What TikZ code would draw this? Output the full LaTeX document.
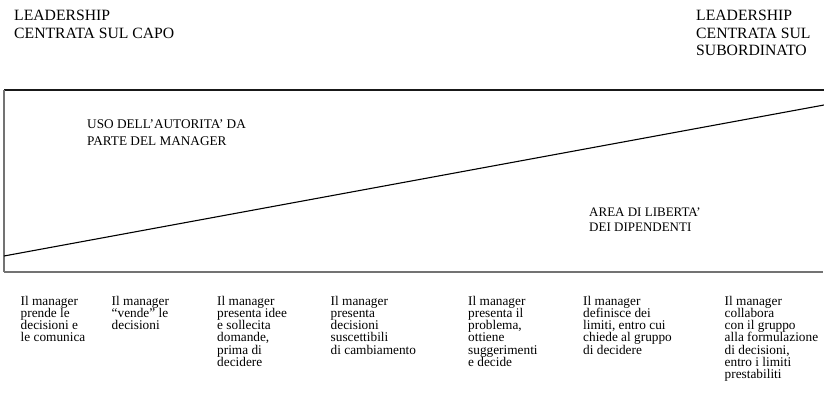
\documentclass[tikz,border=0pt]{standalone}
\usepackage{fontspec}
\setmainfont{Liberation Serif}
\begin{document}
\begin{tikzpicture}[x=1pt,y=-1pt,
  head/.style={anchor=base west,inner sep=0pt,align=left,
    font=\fontsize{15.7}{17.6}\selectfont},
  area/.style 2 args={anchor=base west,inner sep=0pt,align=left,
    font=\fontsize{#1}{#2}\selectfont},
  step label/.style={anchor=base west,inner sep=0pt,align=left,
    font=\fontsize{13.3}{12.3}\selectfont},
  frame top/.style={line width=1.2pt,black!90},
  frame low/.style={line width=1.8pt,black!55},
  frame side/.style={line width=1.6pt,black!55},
  divide/.style={line width=1.1pt,black}]
\useasboundingbox (0,0) rectangle (824,406);

% corners of the open frame and ends of the dividing line
\coordinate (tl) at (4,90);
\coordinate (tr) at (824,90);
\coordinate (bl) at (4,272);
\coordinate (br) at (823,272);
\coordinate (dl) at (4,256);
\coordinate (dr) at (824,105);

\draw[frame top] (tl) -- (tr);
\draw[frame low] (bl) -- (br);
\draw[frame side] (bl) -- (tl);
\draw[divide] (dl) -- (dr);

% the two ends of the scale (nodes are placed by the baseline of their last line)
\node[head] (capo) at (14,38.3) {LEADERSHIP\\CENTRATA SUL CAPO};
\node[head] (sub) at (696,55.9) {LEADERSHIP\\CENTRATA SUL\\SUBORDINATO};

% the two areas split by the line
\node[area={13.25}{17.5}] (autorita) at (87,145.8) {USO DELL'AUTORITA' DA\\PARTE DEL MANAGER};
\node[area={13}{14.5}] (liberta) at (589,231) {AREA DI LIBERTA'\\DEI DIPENDENTI};

% behaviours along the continuum
\node[step label] (s1) at (20.5,341.9) {Il manager\\prende le\\decisioni e\\le comunica};
\node[step label] (s2) at (111.5,329.6) {Il manager\\``vende'' le\\decisioni};
\node[step label] (s3) at (217,366.5) {Il manager\\presenta idee\\e sollecita\\domande,\\prima di\\decidere};
\node[step label] (s4) at (330.5,354.2) {Il manager\\presenta\\decisioni\\suscettibili\\di cambiamento};
\node[step label] (s5) at (468,366.5) {Il manager\\presenta il\\problema,\\ottiene\\suggerimenti\\e decide};
\node[step label] (s6) at (583,354.2) {Il manager\\definisce dei\\limiti, entro cui\\chiede al gruppo\\di decidere};
\node[step label] (s7) at (724.5,378.8) {Il manager\\collabora\\con il gruppo\\alla formulazione\\di decisioni,\\entro i limiti\\prestabiliti};
\end{tikzpicture}
\end{document}
